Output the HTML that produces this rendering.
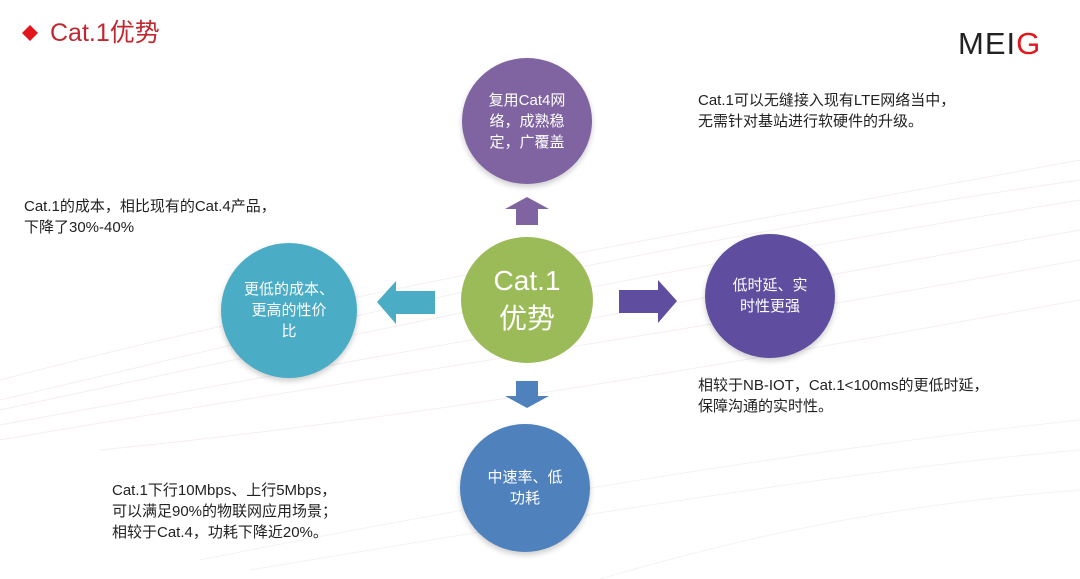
<!DOCTYPE html>
<html><head><meta charset="utf-8"><style>
body{margin:0;width:1080px;height:579px;background:#fff;overflow:hidden;position:relative;font-family:"Liberation Sans","Noto Sans CJK SC",sans-serif}
.t{position:absolute;font-size:15px;color:#222;line-height:21px;white-space:nowrap}
.c{position:absolute;border-radius:50%;display:flex;align-items:center;justify-content:center;text-align:center;color:#fff;font-size:15px;line-height:21px;box-shadow:0 3px 6px rgba(0,0,0,.2)}
</style></head><body>
<svg style="position:absolute;left:0;top:0" width="1080" height="579">
<g fill="none" stroke="#f6eef0" stroke-width="1">
<path d="M0 400 C300 330 600 250 1080 180"/><path d="M0 410 C300 345 650 270 1080 200"/><path d="M0 425 C350 360 700 300 1080 230"/><path d="M0 440 C350 380 700 330 1080 260"/><path d="M100 450 C400 420 700 370 1080 300"/>
<path d="M0 380 C300 300 700 230 1080 160"/>
</g>
<g fill="none" stroke="#f3f3f3" stroke-width="1">
<path d="M200 560 C500 500 800 450 1080 420"/><path d="M250 570 C550 520 850 470 1080 450"/><path d="M600 579 C800 520 950 500 1080 490"/>
</g>
<polygon points="22,33 30,25 38,33 30,41" fill="#e3171b"/>
<polygon points="505,209 527,197 549,209 538,209 538,225 516,225 516,209" fill="#8064a2"/>
<polygon points="377,302 396,281 396,291 435,291 435,314 396,314 396,324" fill="#4bacc6"/>
<polygon points="677,301 658,280 658,290 619,290 619,313 658,313 658,323" fill="#5f4ea0"/>
<polygon points="505,396 527,408 549,396 538,396 538,381 516,381 516,396" fill="#4f81bd"/>
</svg>
<div class="t" style="left:50px;top:19px;font-size:25px;line-height:28px;color:#c0282f">Cat.1优势</div>
<div class="t" style="left:958px;top:27px;font-size:31px;line-height:34px;color:#222;letter-spacing:1px">MEI<span style="color:#e3171b">G</span></div>
<div class="c" style="left:462px;top:58px;width:130px;height:126px;background:#8064a2">复用Cat4网<br>络，成熟稳<br>定，广覆盖</div>
<div class="c" style="left:461px;top:237px;width:132px;height:126px;background:#9bbb59;font-size:28px;line-height:38px;box-shadow:none">Cat.1<br>优势</div>
<div class="c" style="left:221px;top:243px;width:136px;height:135px;background:#4bacc6">更低的成本、<br>更高的性价<br>比</div>
<div class="c" style="left:705px;top:234px;width:130px;height:124px;background:#5f4ea0">低时延、实<br>时性更强</div>
<div class="c" style="left:460px;top:424px;width:130px;height:128px;background:#4f81bd">中速率、低<br>功耗</div>
<div class="t" style="left:698px;top:90px">Cat.1可以无缝接入现有LTE网络当中，<br>无需针对基站进行软硬件的升级。</div>
<div class="t" style="left:24px;top:196px">Cat.1的成本，相比现有的Cat.4产品，<br>下降了30%-40%</div>
<div class="t" style="left:698px;top:375px">相较于NB-IOT，Cat.1&lt;100ms的更低时延，<br>保障沟通的实时性。</div>
<div class="t" style="left:112px;top:480px">Cat.1下行10Mbps、上行5Mbps，<br>可以满足90%的物联网应用场景；<br>相较于Cat.4，功耗下降近20%。</div>
</body></html>
